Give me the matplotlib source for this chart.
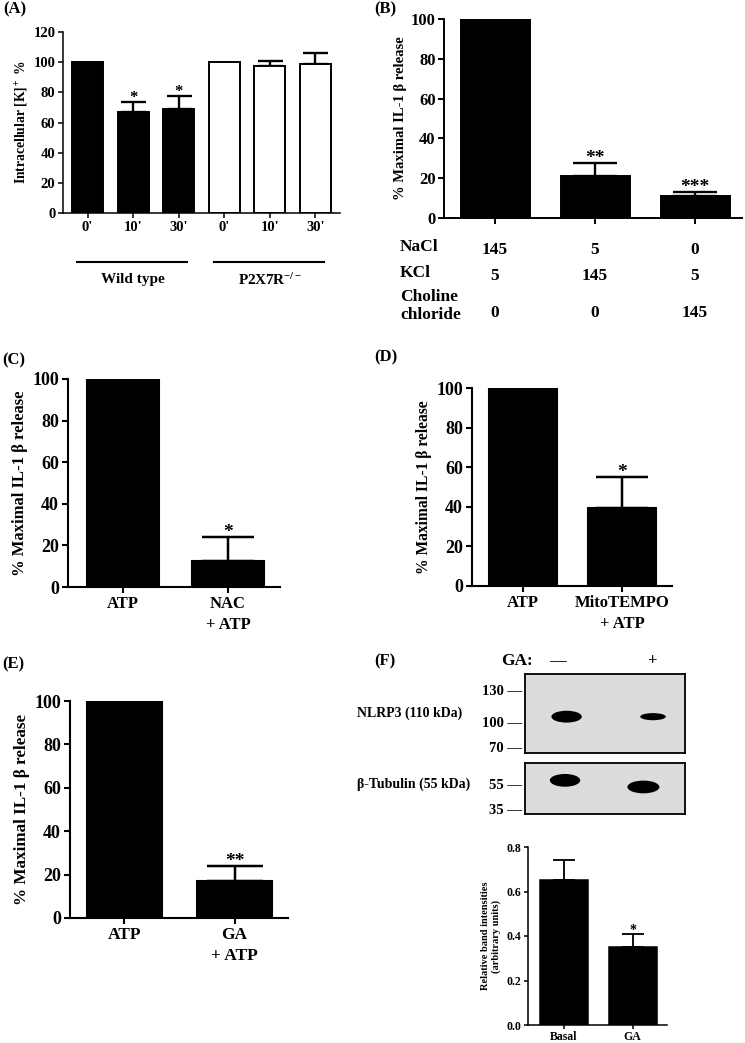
import numpy as np
import matplotlib
matplotlib.use("Agg")
import matplotlib.pyplot as plt
from matplotlib.patches import Ellipse
import matplotlib.transforms as mtransforms

plt.rcParams['font.family'] = ['Liberation Serif', 'DejaVu Serif']
plt.rcParams['font.weight'] = 'bold'
plt.rcParams['axes.labelweight'] = 'bold'
plt.rcParams['mathtext.fontset'] = 'custom'
plt.rcParams['mathtext.rm'] = 'Liberation Serif:bold'
plt.rcParams['mathtext.it'] = 'Liberation Serif:bold'
plt.rcParams['mathtext.bf'] = 'Liberation Serif:bold'

# (A) intracellular K+
a_labels = ["0'", "10'", "30'", "0'", "10'", "30'"]
a_vals = [100, 67, 69, 100, 97.5, 98.5]
a_err = [0, 6.5, 8.5, 0, 3.5, 7.5]
a_fill = ['black', 'black', 'black', 'white', 'white', 'white']
a_stars = ['', '*', '*', '', '', '']
a_groups = ['Wild type', r'P2X7R$^{-/-}$']
a_group_idx = [(0, 2), (3, 5)]

# (B) ion substitution
b_vals = [100, 21, 11]
b_err = [0, 6.5, 2]
b_stars = ['', '**', '***']
b_rows = ['NaCl', 'KCl', 'Choline\nchloride']
b_table = [['145', '5', '0'], ['5', '145', '5'], ['0', '0', '145']]

# (C) NAC
c_labels = ['ATP', 'NAC\n+ ATP']
c_vals = [100, 12.5]
c_err = [0, 11.5]
c_stars = ['', '*']

# (D) MitoTEMPO
d_labels = ['ATP', 'MitoTEMPO\n+ ATP']
d_vals = [100, 39.5]
d_err = [0, 15.5]
d_stars = ['', '*']

# (E) GA
e_labels = ['ATP', 'GA\n+ ATP']
e_vals = [100, 17]
e_err = [0, 7]
e_stars = ['', '**']

# (F) western blot quantification
f_labels = ['Basal', 'GA']
f_vals = [0.65, 0.35]
f_err = [0.09, 0.06]
f_stars = ['', '*']

# (F) blot: lane centres (axes fraction), band position (fraction from top), size
blot_lanes = ['\u2014', '+']
lane_head_x = [0.20, 0.795]
nlrp3_x = [0.26, 0.80]
nlrp3_y = [0.54, 0.54]
nlrp3_w = [0.19, 0.16]
nlrp3_h = [0.15, 0.09]
tub_x = [0.25, 0.74]
tub_y = [0.34, 0.47]
tub_w = [0.19, 0.20]
tub_h = [0.25, 0.25]
nlrp3_markers = ['130', '100', '70']
nlrp3_marker_y = [0.20, 0.61, 0.92]
tub_markers = ['55', '35']
tub_marker_y = [0.41, 0.90]

W, H = 745, 1043
fig = plt.figure(figsize=(W / 100, H / 100), dpi=100)


def px_axes(l, t, r, b):
    return fig.add_axes([l / W, 1 - b / H, (r - l) / W, (b - t) / H])


def prism(ax, lw, fs, tl):
    for s in ['top', 'right']:
        ax.spines[s].set_visible(False)
    for s in ['left', 'bottom']:
        ax.spines[s].set_linewidth(lw)
    ax.tick_params(direction='out', width=lw, length=tl, labelsize=fs, pad=2)


def bars(ax, vals, err, width, lw, cap, fill=None, stars=None, star_fs=12, star_off=1):
    x = np.arange(len(vals))
    if fill is None:
        fill = ['black'] * len(vals)
    ax.bar(x, vals, width=width, color=fill, edgecolor='black', linewidth=lw, zorder=2)
    for i in range(len(vals)):
        if err[i] > 0:
            ax.errorbar(x[i], vals[i], yerr=[[0], [err[i]]], fmt='none', ecolor='black',
                        elinewidth=lw * 1.2, capsize=cap, capthick=lw * 1.2, zorder=1)
        if stars and stars[i]:
            ax.annotate(stars[i], (x[i], vals[i] + err[i]), xytext=(0, star_off),
                        textcoords='offset points', ha='center', va='bottom',
                        fontsize=star_fs, fontweight='bold')
    ax.set_xticks(x)


# ---- (A)
ax = px_axes(63, 32, 340, 213)
prism(ax, 1.1, 10.5, 3.5)
bars(ax, a_vals, a_err, 0.68, 1.4, 9, fill=a_fill, stars=a_stars, star_fs=12, star_off=-3)
ax.set_xticklabels(a_labels)
ax.set_xlim(-0.54, 5.54)
ax.set_ylim(0, 120)
ax.set_yticks(range(0, 121, 20))
ax.set_ylabel(r'Intracellular [K]$^+$ %', fontsize=9.8, labelpad=2)
trans = mtransforms.blended_transform_factory(ax.transData, ax.transAxes)
for name, (i0, i1) in zip(a_groups, a_group_idx):
    ax.plot([i0 - 0.23, i1 + 0.18], [-0.27, -0.27], color='black', lw=1.5,
            transform=trans, clip_on=False)
    ax.text((i0 + i1) / 2, -0.37, name, transform=trans, ha='center', va='center',
            fontsize=11)

# ---- (B)
ax = px_axes(444, 19, 742, 218)
prism(ax, 1.4, 12, 4)
bars(ax, b_vals, b_err, 0.69, 1.4, 15.5, stars=b_stars, star_fs=14, star_off=-3)
ax.set_xticklabels([])
ax.set_xlim(-0.51, 2.47)
ax.set_ylim(0, 100)
ax.set_yticks(range(0, 101, 20))
ax.set_ylabel('% Maximal IL-1 \u03b2 release', fontsize=10.5, labelpad=3)
trans = mtransforms.blended_transform_factory(ax.transData, fig.transFigure)
row_y = [248, 274, 307]
for r, (name, vals) in enumerate(zip(b_rows, b_table)):
    fig.text(400 / W, 1 - (row_y[r] - 1) / H, name, ha='left', va='center',
             fontsize=12.5, linespacing=1.1)
    for i, v in enumerate(vals):
        ax.text(i, 1 - (row_y[r] + 2 + (4 if r == 2 else 0)) / H, v, transform=trans,
                ha='center', va='center', fontsize=12.5)

# ---- (C)
ax = px_axes(68, 379, 280, 587)
prism(ax, 1.5, 13, 4.5)
bars(ax, c_vals, c_err, 0.68, 1.5, 19, stars=c_stars, star_fs=14, star_off=-3)
ax.set_xticklabels(c_labels, fontsize=12, linespacing=1.4)
ax.set_xlim(-0.524, 1.495)
ax.set_ylim(0, 100)
ax.set_yticks(range(0, 101, 20))
ax.set_ylabel('% Maximal IL-1 \u03b2 release', fontsize=12, labelpad=3)

# ---- (D)
ax = px_axes(472, 388, 672, 586)
prism(ax, 1.5, 13, 4.5)
bars(ax, d_vals, d_err, 0.68, 1.5, 19, stars=d_stars, star_fs=14, star_off=-3)
ax.set_xticklabels(d_labels, fontsize=12, linespacing=1.4)
ax.set_xlim(-0.51, 1.50)
ax.set_ylim(0, 100)
ax.set_yticks(range(0, 101, 20))
ax.set_ylabel('% Maximal IL-1 \u03b2 release', fontsize=11.2, labelpad=3)

# ---- (E)
ax = px_axes(70, 701, 288, 918)
prism(ax, 1.5, 13, 4.5)
bars(ax, e_vals, e_err, 0.68, 1.5, 20, stars=e_stars, star_fs=14, star_off=-3)
ax.set_xticklabels(e_labels, fontsize=12.5, linespacing=1.4)
ax.set_xlim(-0.495, 1.486)
ax.set_ylim(0, 100)
ax.set_yticks(range(0, 101, 20))
ax.set_ylabel('% Maximal IL-1 \u03b2 release', fontsize=12.3, labelpad=3)

# ---- (F) quantification
ax = px_axes(528, 847, 667, 1025)
prism(ax, 1.1, 8.5, 3)
bars(ax, f_vals, f_err, 0.70, 1.1, 8, stars=f_stars, star_fs=10, star_off=-2)
ax.set_xticklabels(f_labels, fontsize=8.5)
ax.tick_params(axis='x', pad=1)
ax.set_xlim(-0.525, 1.50)
ax.set_ylim(0, 0.8)
ax.set_yticks(np.arange(0, 0.81, 0.2))
ax.set_yticklabels(['%.1f' % v for v in np.arange(0, 0.81, 0.2)])
ax.set_ylabel('Relative band intensities\n(arbitrary units)', fontsize=7.5,
              labelpad=4, linespacing=1.1)


# ---- (F) blots
def blot(l, t, r, b, xs, ys, ws, hs, marks, mark_y, label, label_y):
    bx = px_axes(l, t, r, b)
    bx.set_facecolor('#dcdcdc')
    bx.set_xlim(0, 1)
    bx.set_ylim(1, 0)
    for s in bx.spines.values():
        s.set_linewidth(1.3)
    bx.set_xticks([])
    bx.set_yticks(mark_y)
    bx.set_yticklabels([m + ' \u2014' for m in marks], fontsize=10.5)
    bx.tick_params(axis='y', length=0, pad=2)
    for x, y, w, h in zip(xs, ys, ws, hs):
        bx.add_patch(Ellipse((x, y), w, h, color='black', lw=0))
    fig.text(357 / W, 1 - label_y / H, label, ha='left', va='center', fontsize=10)
    return bx


bx = blot(525, 674, 685, 753, nlrp3_x, nlrp3_y, nlrp3_w, nlrp3_h,
          nlrp3_markers, nlrp3_marker_y, 'NLRP3 (110 kDa)', 713)
for x, s in zip(lane_head_x, blot_lanes):
    bx.text(x, 1.16, s, transform=bx.transAxes, ha='center', va='center', fontsize=12)
bx.text(0.05, 1.16, 'GA:', transform=bx.transAxes, ha='right', va='center', fontsize=12.5)
blot(525, 763, 685, 814, tub_x, tub_y, tub_w, tub_h,
     tub_markers, tub_marker_y, '\u03b2-Tubulin (55 kDa)', 784)

# panel letters
for lab, x, y in [('(A)', 3, 9), ('(B)', 374, 9), ('(C)', 2, 360), ('(D)', 374, 357),
                  ('(E)', 2, 664), ('(F)', 374, 661)]:
    fig.text(x / W, 1 - y / H, lab, ha='left', va='center', fontsize=12)

fig.savefig('out.png', dpi=100)
